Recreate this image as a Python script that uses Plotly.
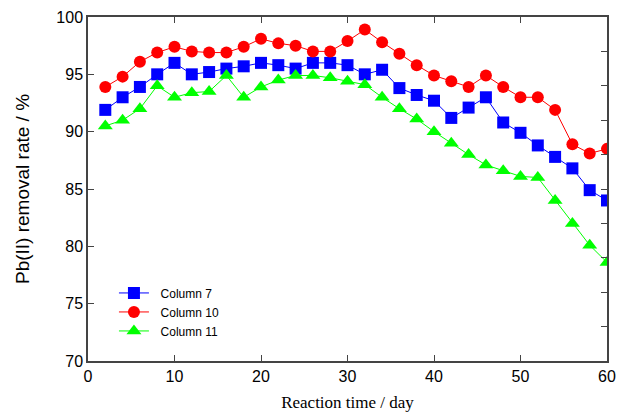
import plotly.graph_objects as go

days = list(range(2, 61, 2))
col7 = [91.9, 93.0, 93.9, 95.0, 96.0, 95.0, 95.2, 95.5, 95.7, 96.0,
        95.8, 95.5, 96.0, 96.0, 95.8, 95.0, 95.4, 93.8, 93.2, 92.7,
        91.2, 92.1, 93.0, 90.8, 89.9, 88.8, 87.8, 86.8, 84.9, 84.0]
col10 = [93.9, 94.8, 96.1, 96.9, 97.4, 97.0, 96.9, 96.9, 97.4, 98.1,
         97.7, 97.5, 97.0, 97.0, 97.9, 98.9, 97.8, 96.8, 95.8, 94.9,
         94.4, 93.9, 94.9, 93.9, 93.0, 93.0, 91.9, 88.9, 88.1, 88.5]
col11 = [90.5, 91.0, 92.0, 94.0, 93.0, 93.4, 93.5, 94.9, 93.0, 93.9,
         94.5, 94.9, 94.9, 94.7, 94.4, 94.1, 93.0, 92.0, 91.1, 90.0,
         89.0, 88.0, 87.1, 86.6, 86.1, 86.0, 84.0, 82.0, 80.1, 78.6]
names = ["Column 7", "Column 10", "Column 11"]
colors = ["#0000FF", "#FF0000", "#00FF00"]
symbols = ["square", "circle", "triangle-up"]
xticks = [0, 10, 20, 30, 40, 50, 60]
yticks = [70, 75, 80, 85, 90, 95, 100]
rticks = [73, 76, 79, 82, 85, 88, 91, 94, 97]

fig = go.Figure()
for name, ys, c, s in zip(names, [col7, col10, col11], colors, symbols):
    fig.add_trace(go.Scatter(x=days, y=ys, name="\u00a0\u00a0" + name, mode="lines+markers",
                             line=dict(color=c, width=1),
                             marker=dict(symbol=s, size=12 if s != "triangle-up" else 13, color=c)))

axcol = "#444444"
fig.update_layout(
    width=623, height=416,
    margin=dict(l=88, r=16, t=17, b=55, autoexpand=False),
    plot_bgcolor="white", paper_bgcolor="white",
    font=dict(family="Liberation Sans, Arial", size=16, color="black"),
    xaxis=dict(range=[0, 60], tickvals=xticks, ticks="inside", ticklen=6,
               tickcolor=axcol, showline=True, linecolor=axcol, linewidth=1.5,
               mirror="ticks", showgrid=False, zeroline=False, automargin=False,
               title=dict(text="Reaction time / day", standoff=12,
                          font=dict(family="Liberation Serif, serif", size=17))),
    yaxis=dict(range=[70, 100], tickvals=yticks, ticks="inside", ticklen=6,
               tickcolor=axcol, showline=True, linecolor=axcol, linewidth=1.5,
               showgrid=False, zeroline=False, automargin=False,
               title=dict(text="Pb(II) removal rate / %", standoff=22)),
    yaxis2=dict(range=[70, 100], tickvals=rticks, ticks="inside", ticklen=6,
                tickcolor=axcol, showline=True, linecolor=axcol, linewidth=1.5,
                overlaying="y", side="right", showticklabels=False, automargin=False,
                showgrid=False, zeroline=False),
    legend=dict(x=0.05, y=0.24, xanchor="left", yanchor="top",
                bgcolor="rgba(0,0,0,0)", font=dict(size=12),
                tracegroupgap=0),
    showlegend=True,
)
fig.add_trace(go.Scatter(x=[None], y=[None], yaxis="y2", showlegend=False, hoverinfo="skip"))
fig.write_html("out.html")
